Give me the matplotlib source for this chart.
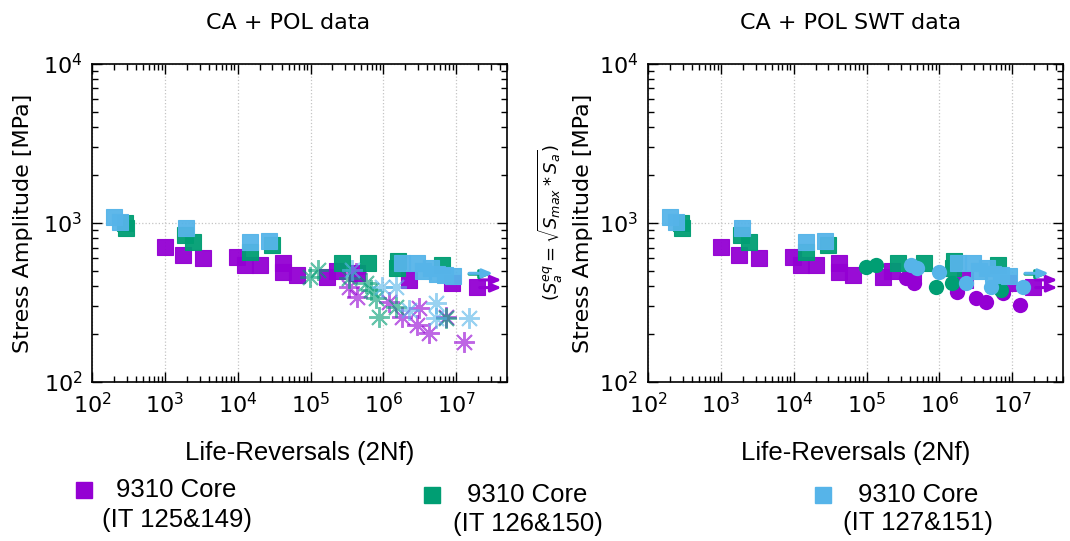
"""S-N plots - CA + POL data for 9310 core specimens."""

import matplotlib
matplotlib.use("Agg")
import matplotlib.pyplot as plt
from matplotlib.lines import Line2D

plt.rcParams['font.family'] = ['DejaVu Sans']
plt.rcParams['mathtext.fontset'] = 'dejavusans'

###################################################################################################
###################################################################################################

PURPLE = '#9400d3'
GREEN = '#009e73'
BLUE = '#56b4e9'
LEG_FONT = ['Liberation Sans', 'DejaVu Sans']

# CA data (squares), life in reversals and stress amplitude in MPa
ca_125_n = [1000, 1780, 3300, 9800, 12500, 20000, 41300, 41300, 64200, 166000, 227000,
            440000, 2.27e6, 8.8e6, 1.94e7]
ca_125_s = [706, 630, 600, 610, 545, 545, 560, 492, 471, 458, 499, 485, 438, 420, 396]
ca_126_n = [285, 295, 1870, 2400, 14600, 30000, 274000, 624000, 1.55e6, 1.6e6, 6.4e6]
ca_126_s = [1000, 930, 841, 760, 658, 728, 560, 560, 520, 575, 545]
ca_127_n = [200, 240, 1940, 14600, 26500, 1.8e6, 2.9e6, 3.5e6, 4.5e6, 5.5e6, 7e6, 9e6]
ca_127_s = [1090, 1014, 931, 760, 771, 560, 560, 500, 520, 480, 470, 465]

# POL data (asterisks, left panel)
pol_125_n = [3.42e5, 4.27e5, 4.4e5, 1.21e6, 1.82e6, 3.1e6, 2.9e6, 4.27e6, 7.3e6, 1.29e7]
pol_125_s = [396, 485, 343, 318, 256, 292, 228, 203, 256, 179]
pol_126_n = [9.7e4, 1.25e5, 3.42e5, 5.85e5, 6.85e5, 8.0e5, 8.8e5, 1.5e6, 7.3e6]
pol_126_s = [457, 506, 451, 420, 379, 338, 256, 296, 253]
pol_127_n = [3.76e5, 9.7e5, 1.5e6, 2.27e6, 5.3e6, 5.3e6, 1.5e7]
pol_127_s = [506, 396, 396, 284, 314, 253, 253]

# POL SWT-equivalent data (circles, right panel)
swt_125_n = [3.5e5, 4.45e5, 1.72e6, 3.2e6, 4.3e6, 7.5e6, 1.29e7]
swt_125_s = [451, 420, 368, 338, 318, 363, 305]
swt_126_n = [9.8e4, 1.34e5, 8.9e5, 1.47e6, 7.1e6]
swt_126_s = [528, 545, 396, 420, 379]
swt_127_n = [4.05e5, 4.9e5, 9.8e5, 2.35e6, 5.1e6, 1.4e7]
swt_127_s = [545, 521, 492, 420, 396, 396]

# Run-outs (arrows): start life, end life, stress
run_125 = [(2.1e7, 4.2e7, 438), (2.1e7, 4.2e7, 392)]
run_126 = [(1.5e7, 3.0e7, 476)]
run_127 = [(1.5e7, 3.2e7, 482)]

series = [
    (PURPLE, ca_125_n, ca_125_s, pol_125_n, pol_125_s, swt_125_n, swt_125_s, run_125),
    (GREEN, ca_126_n, ca_126_s, pol_126_n, pol_126_s, swt_126_n, swt_126_s, run_126),
    (BLUE, ca_127_n, ca_127_s, pol_127_n, pol_127_s, swt_127_n, swt_127_s, run_127),
]

labels = [('9310 Core', '(IT 125&149)'),
          ('9310 Core', '(IT 126&150)'),
          ('9310 Core', '(IT 127&151)')]

###################################################################################################
###################################################################################################

def style_axis(ax, title, title_x, ylab_x):
    """Log-log axes in gnuplot style."""

    ax.set_xscale('log')
    ax.set_yscale('log')
    ax.set_xlim(100, 5e7)
    ax.set_ylim(100, 1e4)
    ax.tick_params(which='both', direction='in', top=True, right=True, width=1)
    ax.tick_params(which='major', length=7, labelsize=16, pad=7)
    ax.tick_params(which='minor', length=4)
    ax.grid(True, which='major', ls=':', color='#c4c4c4', lw=0.9)
    for sp in ax.spines.values():
        sp.set_linewidth(1.2)
    ax.set_xlabel('Life-Reversals (2Nf)', fontsize=18.5, family=LEG_FONT)
    ax.xaxis.set_label_coords(0.5, -0.185)
    ax.set_ylabel('Stress Amplitude [MPa]', fontsize=16)
    ax.yaxis.set_label_coords(ylab_x, 0.5)
    ax.text(title_x, 1.128, title, transform=ax.transAxes, ha='center', va='center',
            fontsize=16)


def draw_runouts(ax, runs, color):
    for n0, n1, s in runs:
        ax.annotate('', xy=(n1, s), xytext=(n0, s),
                    arrowprops=dict(arrowstyle='-|>,head_length=0.6,head_width=0.25',
                                    color=color, lw=2.2, shrinkA=0, shrinkB=0))


fig = plt.figure(figsize=(10.7, 5.41), dpi=100)
ax1 = fig.add_axes([0.086, 0.294, 0.388, 0.588])
ax2 = fig.add_axes([0.6056, 0.294, 0.388, 0.588])

for color, ca_n, ca_s, pol_n, pol_s, swt_n, swt_s, runs in series:

    # Left panel: CA squares + POL asterisks
    draw_runouts(ax1, runs, color)
    ax1.plot(ca_n, ca_s, ls='none', marker='s', ms=11.5, color=color, mew=0.8,
             mec=color, alpha=0.95)
    ax1.plot(pol_n, pol_s, ls='none', marker=(8, 2, 0), ms=15, mew=1.4,
             color=color, alpha=0.6)

    # Right panel: CA squares + POL SWT circles
    draw_runouts(ax2, runs, color)
    ax2.plot(ca_n, ca_s, ls='none', marker='s', ms=11.5, color=color, mew=0.8,
             mec=color, alpha=0.95)
    ax2.plot(swt_n, swt_s, ls='none', marker='o', ms=11, color=color, mew=0)

style_axis(ax1, 'CA + POL data', 0.472, -0.142)
style_axis(ax2, 'CA + POL SWT data', 0.489, -0.132)
ax2.text(-0.236, 0.5, r'$(S_a^{eq} = \sqrt{S_{max} * S_a})$', transform=ax2.transAxes,
         rotation=90, ha='center', va='center', fontsize=13)

# Figure-level legend, one entry per specimen group
leg_pos = [(0.0785, 0.094, 0.165, 0.038), (0.404, 0.085, 0.493, 0.031),
           (0.769, 0.085, 0.858, 0.033)]
for (color, *_), (line1, line2), (mx, my, tx, ty) in zip(series, labels, leg_pos):
    fig.add_artist(Line2D([mx], [my], transform=fig.transFigure, ls='none', marker='s',
                          ms=11, color=color))
    fig.text(tx, my, line1, ha='center', va='center', fontsize=18.5, family=LEG_FONT)
    fig.text(tx, ty, line2, ha='center', va='center', fontsize=18.5, family=LEG_FONT)

fig.savefig('out.png', dpi=100)
